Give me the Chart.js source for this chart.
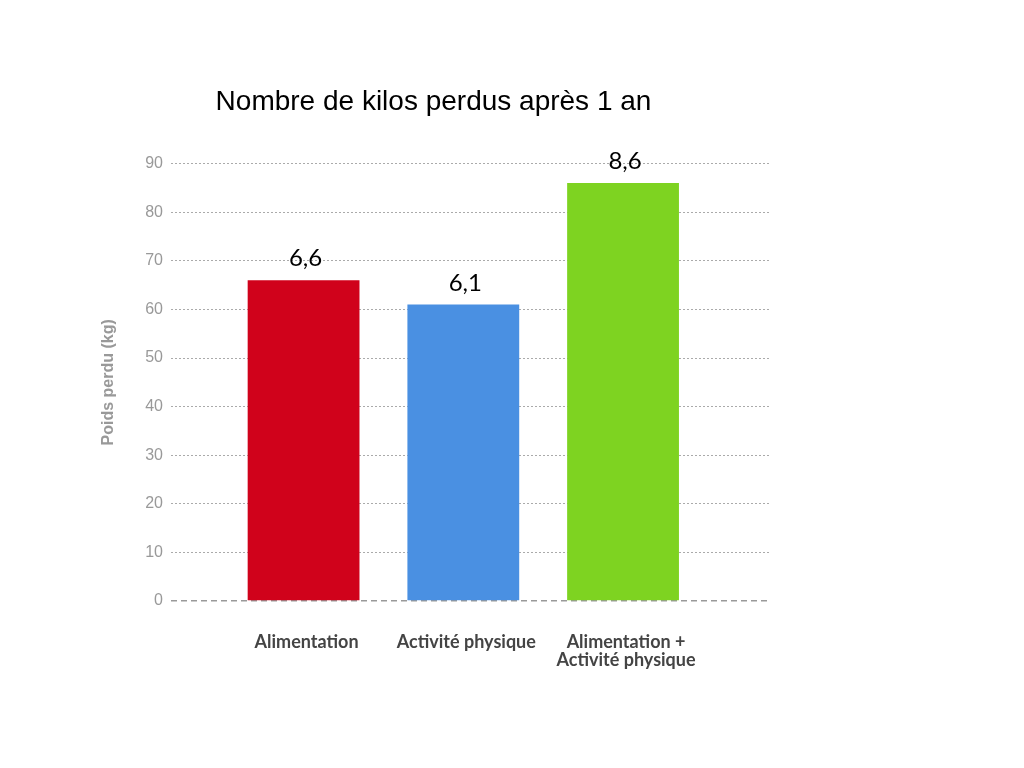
<!DOCTYPE html>
<html lang="fr">
<head>
<meta charset="utf-8">
<title>Nombre de kilos perdus après 1 an</title>
<script src="https://cdn.jsdelivr.net/npm/chart.js@4/dist/chart.umd.min.js"></script>
<style>
    html, body { margin: 0; padding: 0; background: #fff; }
    #wrap { width: 1024px; height: 768px; }
</style>
</head>
<body>
<div id="wrap"><canvas id="chart" width="1024" height="768"></canvas></div>
<script>
// Données du graphique
const categories = ['Alimentation', 'Activité physique', ['Alimentation +', 'Activité physique']];
const poidsPerdu = [66, 61, 86];
const etiquettes = ['6,6', '6,1', '8,6'];
const couleurs = ['#D0021B', '#4A90E2', '#7ED321'];
const yTicks = [0, 10, 20, 30, 40, 50, 60, 70, 80, 90];

// Étiquettes au-dessus des barres
const valueLabels = {
    id: 'valueLabels',
    afterDatasetsDraw(chart) {
        const ctx = chart.ctx;
        const meta = chart.getDatasetMeta(0);
        ctx.save();
        ctx.font = '24px Lato';
        ctx.fillStyle = '#000';
        ctx.textAlign = 'center';
        ctx.textBaseline = 'alphabetic';
        meta.data.forEach((bar, i) => {
            ctx.fillText(etiquettes[i], bar.x + 2, bar.y - 14);
        });
        ctx.restore();
    }
};

new Chart(document.getElementById('chart'), {
    type: 'bar',
    data: {
        datasets: [{
            data: poidsPerdu.map((v, i) => ({ x: i, y: v })),
            backgroundColor: couleurs,
            borderWidth: 0,
            barPercentage: 0.7,
            categoryPercentage: 1
        }]
    },
    options: {
        responsive: false,
        animation: false,
        layout: { padding: { left: 97, right: 254, top: 85, bottom: 67 } },
        plugins: {
            legend: { display: false },
            tooltip: { enabled: false },
            title: {
                display: true,
                text: 'Nombre de kilos perdus après 1 an',
                color: '#000',
                font: { family: 'Liberation Sans', size: 28, weight: 'normal' },
                padding: { top: 0, bottom: 45 }
            }
        },
        scales: {
            x: {
                type: 'linear',
                offset: false,
                min: -0.83,
                max: 2.92,
                afterBuildTicks: (scale) => {
                    scale.ticks = categories.map((_, i) => ({ value: i }));
                },
                grid: { display: false, drawTicks: false, offset: false },
                border: { display: false },
                ticks: {
                    autoSkip: false,
                    maxRotation: 0,
                    padding: 32,
                    labelOffset: 3,
                    color: '#444',
                    font: { family: 'Lato', size: 18, weight: 'bold', lineHeight: 1.0 },
                    callback: (v) => categories[v]
                }
            },
            y: {
                min: 0,
                max: 90,
                afterBuildTicks: (scale) => {
                    scale.ticks = yTicks.map(v => ({ value: v }));
                },
                grid: {
                    drawTicks: false,
                    color: (c) => c.tick && c.tick.value === 0 ? '#999' : '#aaa',
                    lineWidth: (c) => c.tick && c.tick.value === 0 ? 1.5 : 1
                },
                border: {
                    display: false,
                    dash: (c) => c.tick && c.tick.value === 0 ? [6, 4] : [2, 2]
                },
                ticks: {
                    padding: 8,
                    color: '#999',
                    font: { family: 'Liberation Sans', size: 16 }
                },
                title: {
                    display: true,
                    text: 'Poids perdu (kg)',
                    color: '#999',
                    font: { family: 'Liberation Sans', size: 16, weight: 'bold' },
                    padding: { top: 2, bottom: 19 }
                }
            }
        }
    },
    plugins: [valueLabels]
});
</script>
</body>
</html>
